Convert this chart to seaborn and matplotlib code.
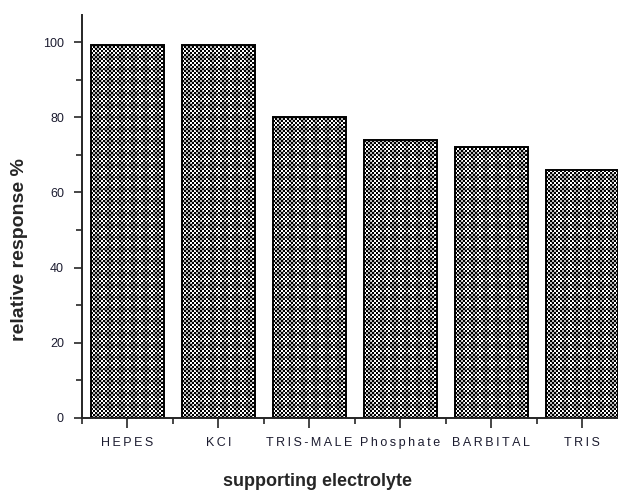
import numpy as np
import pandas as pd
import matplotlib.pyplot as plt
import seaborn as sns
from matplotlib.colors import ListedColormap
from matplotlib.ticker import MultipleLocator

sns.set_style('ticks')
plt.rcParams['font.family'] = ['Liberation Sans', 'DejaVu Sans']

# values
electrolytes = ['HEPES', 'KCl', 'TRIS-MALE', 'Phosphate', 'BARBITAL', 'TRIS']
tick_labels = ['HEPES', 'KCl', 'TRIS-MALE', 'Phosphate', 'BARBITAL', 'TRIS']
response = [99.3, 99.3, 80.0, 74.0, 72.0, 66.0]

df = pd.DataFrame({'electrolyte': electrolytes, 'response': response})

fig = plt.figure(figsize=(6.18, 4.91), dpi=100, facecolor='white')
ax = fig.add_axes([0.1327, 0.1487, 0.8827, 0.8208])
ax.patch.set_visible(False)

sns.barplot(data=df, x='electrolyte', y='response', ax=ax, width=0.8,
            color='white', edgecolor='black', linewidth=1.4, saturation=1)

ax.set_xlim(-0.5, 5.5)
ax.set_ylim(0, 107.2)

# checker texture inside each bar (old Origin-style fill), placed pixel-exact
checker = ListedColormap(['black', '#b4b4b4', 'white'])
fig.canvas.draw()
for p in list(ax.patches):
    x0, x1 = p.get_x(), p.get_x() + p.get_width()
    h = p.get_height()
    (dx0, dy0), (dx1, dy1) = ax.transData.transform([(x0, 0), (x1, h)])
    px0, py0 = int(round(dx0)), int(round(dy0))
    nx, ny = int(round(dx1)) - px0, int(round(dy1)) - py0
    jj, ii = np.meshgrid(np.arange(nx), np.arange(ny))
    dark = ((ii // 2 + jj // 2) % 2) == 0
    light = np.where(((ii + jj) // 12 + (ii - jj + 600) // 12) % 2 == 0, 2, 1)
    tex = np.where(dark, 0, light)
    fig.figimage(tex, xo=px0, yo=py0, cmap=checker, vmin=0, vmax=2,
                 origin='lower', zorder=-1)
    p.set_facecolor('none')

ax.yaxis.set_major_locator(MultipleLocator(20))
ax.yaxis.set_minor_locator(MultipleLocator(10))
ax.xaxis.set_minor_locator(MultipleLocator(1, offset=0.5))
ax.set_xticks(range(len(electrolytes)))
ax.set_xticklabels(['\u2009'.join(t) for t in tick_labels], fontsize=9, color='#1c1c30')
ax.tick_params(axis='y', labelsize=9, labelcolor='#1c1c30', length=6, width=1.2, pad=7)
ax.tick_params(axis='x', length=7, width=1.2, pad=7)
ax.tick_params(which='minor', length=4, width=1.2)
ax.tick_params(axis='x', which='minor', bottom=True)

sns.despine(ax=ax)
ax.spines['left'].set_linewidth(1.4)
ax.spines['bottom'].set_linewidth(1.4)

ax.set_xlabel('supporting electrolyte', fontsize=13, fontweight='bold')
ax.set_ylabel('relative response %', fontsize=14, fontweight='bold')
ax.xaxis.set_label_coords(0.431, -0.136)
ax.yaxis.set_label_coords(-0.099, 0.419)

fig.savefig('out.png', dpi=100, facecolor='white')
